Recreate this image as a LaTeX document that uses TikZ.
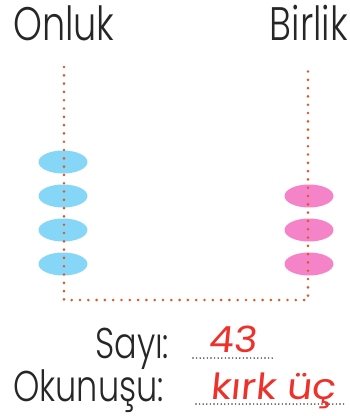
\documentclass[tikz,border=0pt]{standalone}
\usepackage{fontspec}
\usepackage{tikz}
\usetikzlibrary{shapes.geometric,positioning}
\newfontfamily\schoolfont{Poppins}[UprightFont=* Light,FakeStretch=0.78]
\newfontfamily\handfont{Poppins}[FakeSlant=0.1,FakeStretch=1.1]
\definecolor{rodorange}{RGB}{222,88,40}
\definecolor{beadblue}{RGB}{134,215,247}
\definecolor{beadpink}{RGB}{245,131,200}
\definecolor{inkred}{RGB}{236,50,42}
\tikzset{
  title/.style={font=\schoolfont\fontsize{47}{47}\selectfont,inner sep=0pt,text=black!85},
  caption/.style={font=\schoolfont\fontsize{43}{43}\selectfont,inner sep=0pt,text=black!85},
  hand/.style={font=\handfont\fontsize{36}{36}\selectfont,inner sep=0pt,text=inkred},
  rod/.style={rodorange,line width=2.9pt,line cap=round,dash pattern=on 0pt off 8.3pt},
  blank/.style={black!80,line width=1.6pt,line cap=round,dash pattern=on 0pt off 3.6pt},
  bead/.style={ellipse,minimum width=49pt,minimum height=23pt,inner sep=0pt},
  tens/.style={bead,fill=beadblue},
  ones/.style={bead,fill=beadpink},
}
\begin{document}
\begin{tikzpicture}[x=1pt,y=-1pt]
  \path[use as bounding box,fill=white] (0,0) rectangle (350,416);
  % column titles
  \node[title,anchor=base west] (onluk) at (13,40) {Onluk};
  \node[title,anchor=base east] (birlik) at (348,40) {Birlik};

  % frame of the abacus
  \coordinate (tl) at (64,67);
  \coordinate (bl) at (64,300);
  \coordinate (br) at (308,300);
  \coordinate (tr) at (308,67);

  % beads
  \foreach \i/\y in {1/162,2/196,3/230,4/264}
    \node[tens] (t\i) at (63,\y) {};
  \foreach \i/\y in {1/196,2/230,3/264}
    \node[ones] (o\i) at (309,\y) {};
  \draw[rod] (tl) -- (bl) -- (br) -- (tr);

  % number and reading
  \node[caption,anchor=base west] (sayi) at (95,358) {Sayı:};
  \node[caption,anchor=base west] (okunus) at (13,401) {Okunuşu:};
  \coordinate (s1) at (193,358);
  \coordinate (s2) at (273,358);
  \coordinate (k1) at (196,404);
  \coordinate (k2) at (345,404);
  \draw[blank] (s1) -- (s2);
  \draw[blank] (k1) -- (k2);
  \node[hand,anchor=base] (sayiyaz) at (233,352) {43};
  \node[hand,anchor=base] (okunusyaz) at (273,399) {kırk üç};
\end{tikzpicture}
\end{document}
